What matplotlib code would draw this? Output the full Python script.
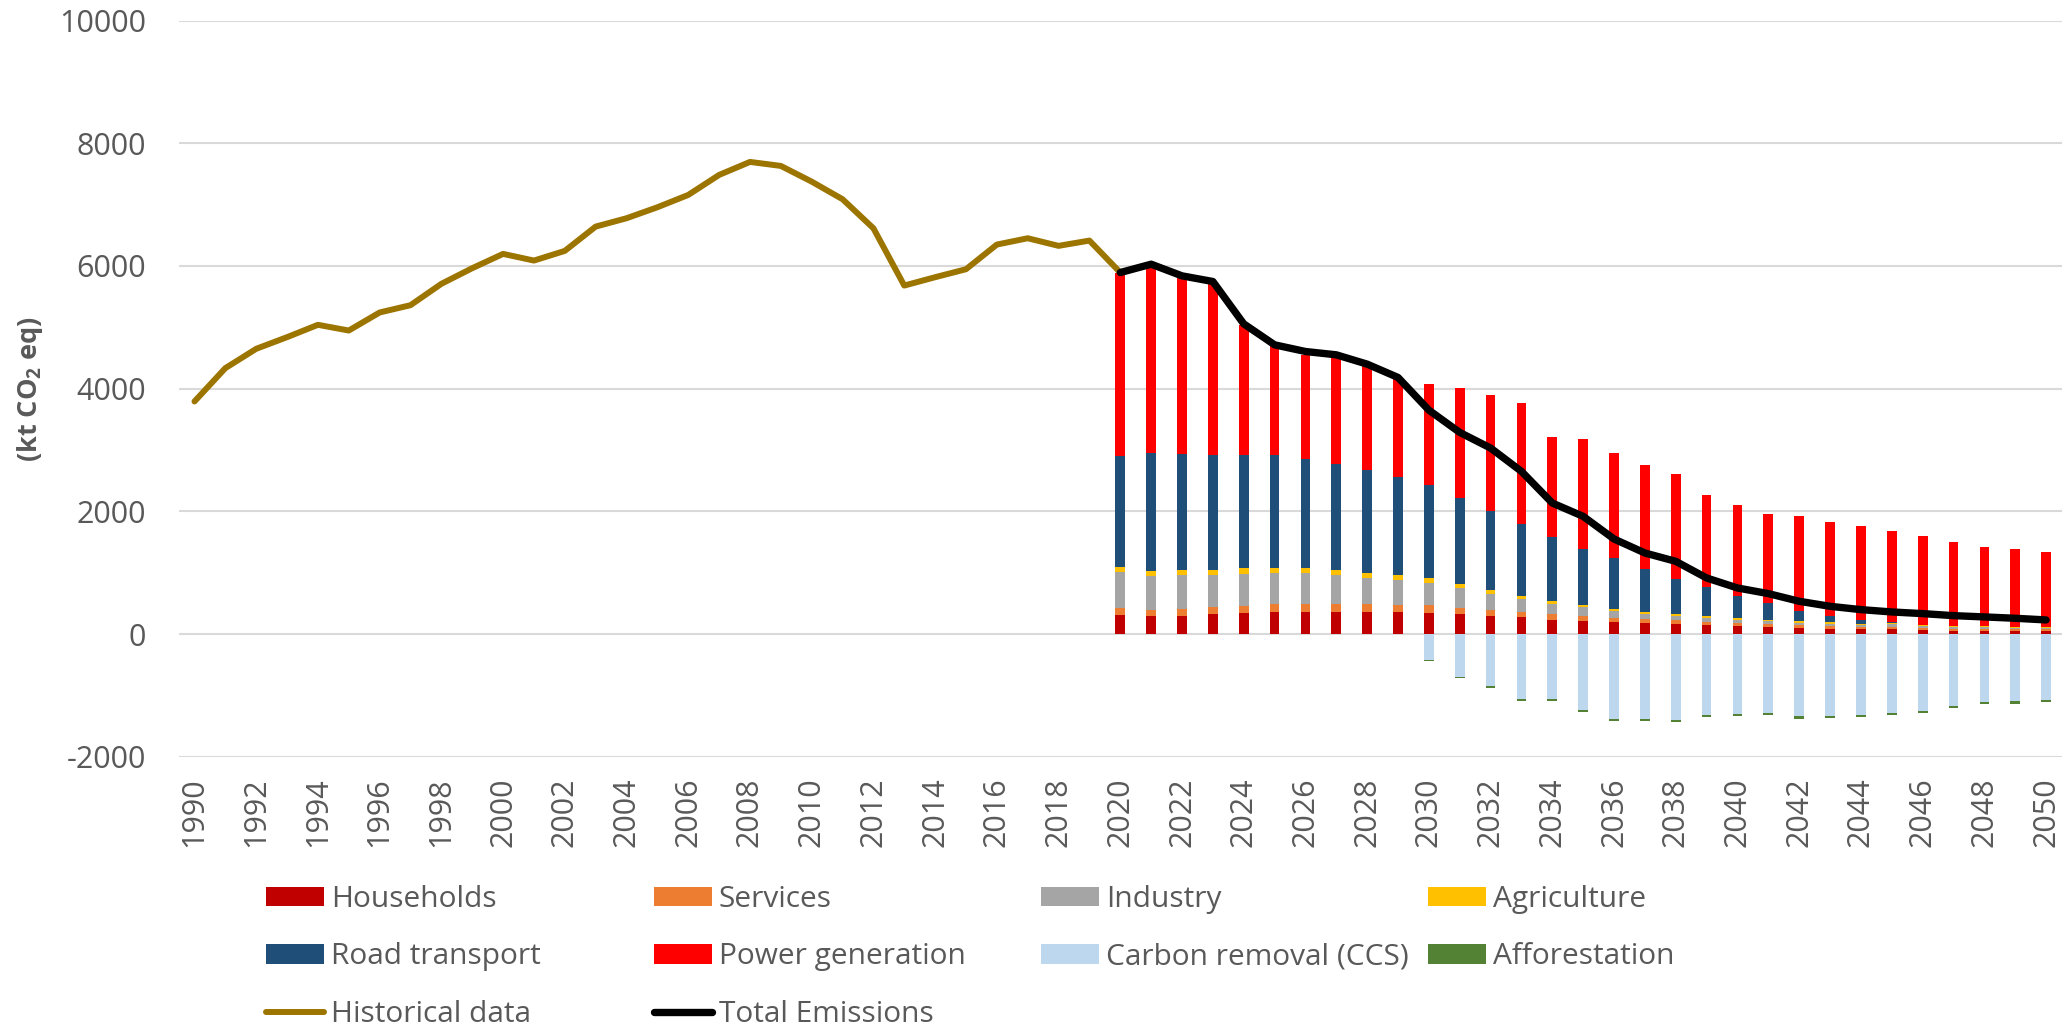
import matplotlib
matplotlib.use('Agg')
import matplotlib.pyplot as plt
from matplotlib.patches import Patch
from matplotlib.lines import Line2D
import numpy as np

# ---------------- data ----------------
hist_years = list(range(1990, 2021))
historical = [3792, 4335, 4650, 4840, 5041, 4948, 5242, 5361, 5709, 5964,
              6197, 6088, 6246, 6642, 6778, 6957, 7158, 7484, 7696, 7631,
              7375, 7088, 6615, 5681, 5817, 5947, 6349, 6452, 6328, 6414, 5893]

proj_years = list(range(2020, 2051))
households = [317, 290, 301, 323, 345, 361, 361, 361, 356, 356,
              345, 323, 290, 274, 236, 220, 193, 176, 166, 149,
              133, 122, 106, 90, 84, 79, 73, 57, 57, 57, 52]
services = [109, 109, 103, 114, 119, 130, 136, 136, 135, 119,
            125, 109, 109, 87, 92, 70, 70, 71, 59, 44,
            43, 44, 38, 43, 38, 43, 33, 33, 27, 27, 27]
industry = [581, 543, 554, 527, 521, 505, 499, 461, 418, 401,
            369, 314, 250, 206, 169, 147, 114, 81, 65, 65,
            55, 48, 43, 38, 33, 38, 32, 27, 32, 23, 22]
agriculture = [92, 92, 82, 81, 87, 87, 87, 92, 92, 82,
               81, 71, 70, 60, 49, 38, 38, 38, 33, 38,
               32, 22, 22, 22, 16, 17, 11, 10, 10, 8, 8]
road_transport = [1797, 1917, 1889, 1873, 1846, 1830, 1765, 1727, 1673, 1596,
                  1504, 1395, 1281, 1167, 1031, 912, 826, 694, 581, 467,
                  353, 266, 174, 108, 65, 21, 0, 6, 2, 2, 2]
power_generation = [2986, 3013, 2872, 2802, 2123, 1775, 1704, 1737, 1688, 1602,
                    1651, 1792, 1895, 1965, 1634, 1791, 1715, 1690, 1710, 1509,
                    1488, 1460, 1536, 1531, 1520, 1477, 1455, 1368, 1297, 1265, 1222]
carbon_removal = [0, 0, 0, 0, 0, 0, 0, 0, 0, 0,
                  -415, -698, -850, -1062, -1051, -1230, -1382, -1382, -1399, -1311,
                  -1295, -1289, -1338, -1333, -1316, -1284, -1246, -1164, -1110, -1094, -1067]
afforestation = [0, 0, 0, 0, 0, 0, 0, 0, 0, 0,
                 -17, -21, -21, -27, -32, -33, -38, -38, -38, -39,
                 -38, -33, -38, -33, -33, -32, -38, -44, -28, -38, -38]
total_emissions = [5893, 6029, 5839, 5747, 5057, 4715, 4606, 4552, 4400, 4183,
                   3650, 3287, 3032, 2652, 2136, 1919, 1550, 1322, 1186, 915,
                   752, 660, 535, 453, 399, 361, 334, 301, 280, 258, 231]

x_ticks = list(range(1990, 2051, 2))
y_ticks = [-2000, 0, 2000, 4000, 6000, 8000, 10000]

pos_series = [
    ("Households", households, "#C00000"),
    ("Services", services, "#ED7D31"),
    ("Industry", industry, "#A5A5A5"),
    ("Agriculture", agriculture, "#FFC000"),
    ("Road transport", road_transport, "#1F4E79"),
    ("Power generation", power_generation, "#FF0000"),
]
neg_series = [
    ("Carbon removal (CCS)", carbon_removal, "#BDD7EE"),
    ("Afforestation", afforestation, "#548235"),
]
hist_color = "#9C7400"
text_color = "#595959"

# ---------------- style ----------------
plt.rcParams['font.family'] = ['Open Sans', 'DejaVu Sans']
plt.rcParams['mathtext.fontset'] = 'custom'
plt.rcParams['mathtext.rm'] = 'Open Sans'
plt.rcParams['mathtext.bf'] = 'Open Sans:bold'
plt.rcParams['axes.unicode_minus'] = False

fig = plt.figure(figsize=(20.7, 10.28), dpi=100)
ax = fig.add_axes([0.0865, 0.2638, 0.9094, 0.7162])

bw = 0.315
xs = np.array(proj_years)
bottom = np.zeros(len(xs))
for name, vals, col in pos_series:
    v = np.array(vals, dtype=float)
    ax.bar(xs, v, bw, bottom=bottom, color=col, linewidth=0, zorder=2)
    bottom += v
nbottom = np.zeros(len(xs))
for name, vals, col in neg_series:
    v = np.array(vals, dtype=float)
    ax.bar(xs, v, bw, bottom=nbottom, color=col, linewidth=0, zorder=2)
    nbottom += v

ax.plot(hist_years, historical, color=hist_color, lw=4.3, zorder=3,
        solid_capstyle='round', solid_joinstyle='round')
ax.plot(proj_years, total_emissions, color='black', lw=5.3, zorder=4,
        solid_capstyle='round', solid_joinstyle='round')

ax.set_xlim(1989.5, 2050.5)
ax.set_ylim(-2000, 10000)
ax.set_yticks(y_ticks)
ax.set_xticks(x_ticks)
ax.set_xticklabels([str(t) for t in x_ticks], rotation=90)
ax.tick_params(axis='y', length=0, pad=24, labelsize=22, labelcolor=text_color)
ax.tick_params(axis='x', length=0, pad=15, labelsize=22, labelcolor=text_color)
for s in ax.spines.values():
    s.set_visible(False)
ax.grid(axis='y', color='#D9D9D9', lw=1.5, zorder=0)
ax.set_axisbelow(True)
ax.set_ylabel(r'(kt CO$_{\mathbf{2}}$ eq)', fontsize=19.5, fontweight='bold',
              color=text_color, labelpad=10)

# ---------------- legend (4 equal-width columns) ----------------
h_hist = Line2D([], [], color=hist_color, lw=4.3, solid_capstyle='round')
h_tot = Line2D([], [], color='black', lw=5.3, solid_capstyle='round')
patches = {name: Patch(facecolor=col, linewidth=0) for name, _, col in pos_series + neg_series}
columns = [
    [("Households", patches["Households"]), ("Road transport", patches["Road transport"]),
     ("Historical data", h_hist)],
    [("Services", patches["Services"]), ("Power generation", patches["Power generation"]),
     ("Total Emissions", h_tot)],
    [("Industry", patches["Industry"]), ("Carbon removal (CCS)", patches["Carbon removal (CCS)"])],
    [("Agriculture", patches["Agriculture"]), ("Afforestation", patches["Afforestation"])],
]
col_x = [0.1285, 0.316, 0.503, 0.690]
for cx, items in zip(col_x, columns):
    leg = fig.legend([h for _, h in items], [l for l, _ in items],
                     loc='upper left', bbox_to_anchor=(cx, 0.139),
                     frameon=False, fontsize=21.5, borderpad=0, borderaxespad=0,
                     handlelength=1.94, handleheight=0.64, handletextpad=0.23,
                     labelspacing=0.95)
    for t in leg.get_texts():
        t.set_color(text_color)

fig.savefig('out.png', dpi=100)
